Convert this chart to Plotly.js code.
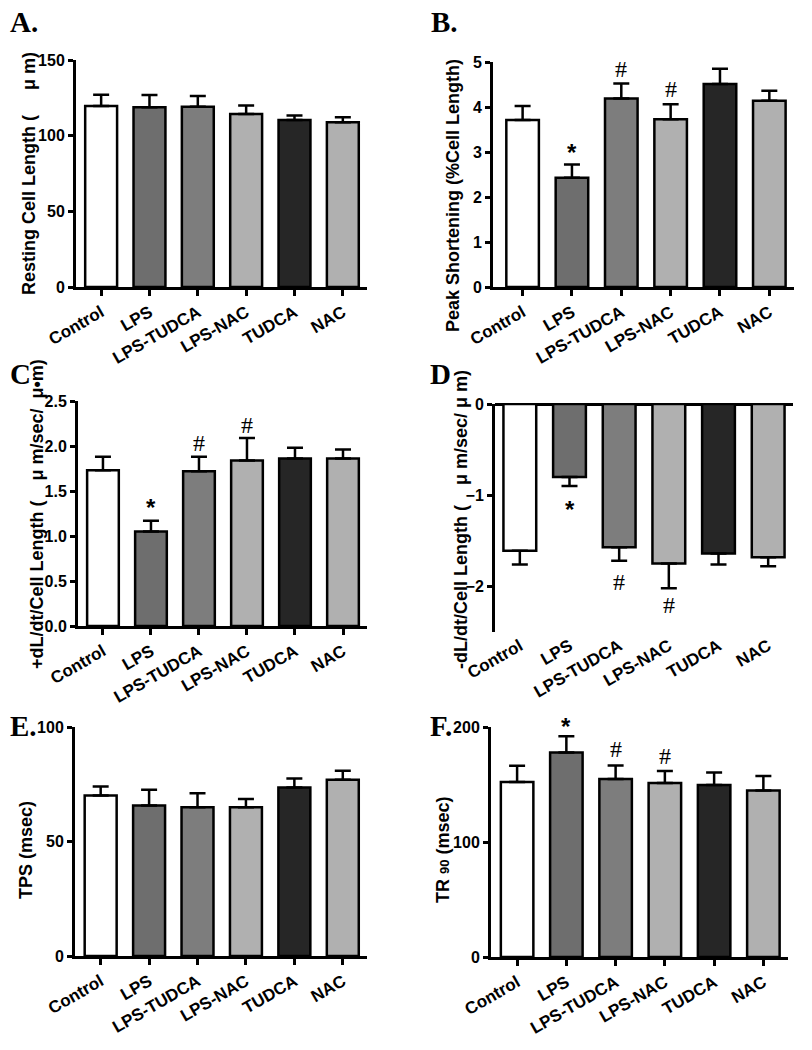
<!DOCTYPE html>
<html><head><meta charset="utf-8">
<script src="https://cdn.plot.ly/plotly-3.0.1.min.js"></script>
<style>body{margin:0;background:#fff}</style>
</head><body><div id="chart" style="width:812px;height:1050px"></div>
<script>
// ---------- data ----------
const groups = ['Control', 'LPS', 'LPS-TUDCA', 'LPS-NAC', 'TUDCA', 'NAC'];

const restingLength    = [119.6, 118.7, 119.1, 114.3, 110.4, 108.8];
const restingLengthSem = [7.4, 8.2, 7.1, 5.7, 3.0, 3.3];
const restingLengthMarks = ['', '', '', '', '', ''];

const peakShortening    = [3.71, 2.43, 4.19, 3.73, 4.51, 4.14];
const peakShorteningSem = [0.31, 0.29, 0.33, 0.33, 0.34, 0.22];
const peakShorteningMarks = ['', '*', '#', '#', '', ''];

const plusDLdt    = [1.73, 1.05, 1.72, 1.84, 1.86, 1.86];
const plusDLdtSem = [0.15, 0.12, 0.16, 0.25, 0.12, 0.10];
const plusDLdtMarks = ['', '*', '#', '#', '', ''];

const minusDLdt    = [-1.61, -0.80, -1.57, -1.75, -1.64, -1.68];
const minusDLdtSem = [0.15, 0.10, 0.15, 0.27, 0.12, 0.10];
const minusDLdtMarks = ['', '*', '#', '#', '', ''];

const tps    = [70.1, 65.7, 65.0, 65.0, 73.6, 77.0];
const tpsSem = [3.9, 6.9, 6.1, 3.6, 3.9, 3.9];
const tpsMarks = ['', '', '', '', '', ''];

const tr90    = [152.1, 177.9, 154.7, 151.2, 149.5, 144.8];
const tr90Sem = [14.2, 14.0, 11.9, 10.5, 11.0, 12.5];
const tr90Marks = ['', '*', '#', '#', '', ''];

// ---------- styles ----------
const barColors = ['#ffffff', '#6e6e6e', '#7d7d7d', '#b0b0b0', '#262626', '#b0b0b0'];
const W = 812, H = 1050;
const SANS = 'Liberation Sans, Arial, sans-serif';
const NARROW = 'Liberation Sans Narrow, Arial Narrow, Liberation Sans, Arial, sans-serif';
const SERIF = 'Liberation Serif, Times New Roman, serif';

const panels = [
  {vals: restingLength, sem: restingLengthSem, marks: restingLengthMarks, neg: false,
   xpx: [76, 367], ypx: [60, 287], xr: [-0.52, 5.5], yr: [0, 150], tickvals: [0, 50, 100, 150], fmt: '',
   title: 'Resting Cell Length (\u00a0\u00a0\u00a0\u00a0\u00a0\u03bc m)', tpos: [29, 174],
   letter: 'A.', lpos: [8, 22], markShift: [0, 0, 0, 0, 0, 0]},
  {vals: peakShortening, sem: peakShorteningSem, marks: peakShorteningMarks, neg: false,
   xpx: [493, 794], ypx: [62, 287], xr: [-0.6, 5.5], yr: [0, 5], tickvals: [0, 1, 2, 3, 4, 5], fmt: '',
   title: 'Peak Shortening (%Cell Length)', tpos: [453, 196],
   letter: 'B.', lpos: [429, 22], markShift: [0, 12, 15, 15, 0, 0]},
  {vals: plusDLdt, sem: plusDLdtSem, marks: plusDLdtMarks, neg: false,
   xpx: [78, 367], ypx: [401, 626], xr: [-0.52, 5.5], yr: [0, 2.5], tickvals: [0, 0.5, 1, 1.5, 2, 2.5], fmt: '.1f',
   title: '+dL/dt/Cell Length (\u00a0\u00a0\u00a0\u00a0\u03bc m/sec/\u00a0\u00a0\u03bc\u2022m)', tpos: [37, 514],
   letter: 'C', lpos: [8, 374], markShift: [0, 13, 14, 13, 0, 0]},
  {vals: minusDLdt, sem: minusDLdtSem, marks: minusDLdtMarks, neg: true,
   xpx: [495, 793], ypx: [404, 632], xr: [-0.5, 5.5], yr: [-2.5, 0], tickvals: [-2, -1, 0], fmt: '',
   title: '-dL/dt/Cell Length (\u00a0\u00a0\u00a0\u00a0\u03bc m/sec/\u00a0\u03bc m)', tpos: [461, 520],
   letter: 'D', lpos: [428, 374], markShift: [0, -23, -21, -17, 0, 0]},
  {vals: tps, sem: tpsSem, marks: tpsMarks, neg: false,
   xpx: [75, 367], ypx: [727, 956], xr: [-0.53, 5.5], yr: [0, 100], tickvals: [0, 50, 100], fmt: '',
   title: 'TPS (msec)', tpos: [26, 850],
   letter: 'E.', lpos: [8, 726], markShift: [0, 0, 0, 0, 0, 0]},
  {vals: tr90, sem: tr90Sem, marks: tr90Marks, neg: false,
   xpx: [491, 788], ypx: [727, 957], xr: [-0.53, 5.5], yr: [0, 200], tickvals: [0, 100, 200], fmt: '',
   title: 'TR <span style="font-size:13px">90</span> (msec)', tpos: [443, 850],
   letter: 'F.', lpos: [428, 726], markShift: [0, 10, 16, 15, 0, 0]}
];

const data = [];
const layout = {
  width: W, height: H,
  margin: {l: 0, r: 0, t: 0, b: 0},
  paper_bgcolor: '#fff', plot_bgcolor: 'rgba(0,0,0,0)',
  showlegend: false, bargap: 0.34,
  annotations: []
};

panels.forEach((p, i) => {
  const n = i + 1;
  const xa = 'x' + (n === 1 ? '' : n), ya = 'y' + (n === 1 ? '' : n);
  const zeros = p.vals.map(() => 0);
  data.push({
    type: 'bar', x: groups, y: p.vals, xaxis: xa, yaxis: ya,
    width: 0.66,
    marker: {color: barColors, line: {color: '#000', width: 2.5}},
    error_y: {type: 'data', symmetric: false,
      array: p.neg ? zeros : p.sem, arrayminus: p.neg ? p.sem : zeros,
      color: '#000', thickness: 2.5, width: 8},
    hoverinfo: 'skip', cliponaxis: false
  });
  const xkey = 'xaxis' + (n === 1 ? '' : n), ykey = 'yaxis' + (n === 1 ? '' : n);
  layout[xkey] = {
    domain: [p.xpx[0] / W, p.xpx[1] / W], anchor: ya,
    type: 'category', range: p.xr, fixedrange: true,
    showline: !p.neg, linecolor: '#000', linewidth: 3,
    ticks: p.neg ? '' : 'outside', ticklen: 6, tickwidth: 3, tickcolor: '#000',
    tickangle: -30, showgrid: false, zeroline: false,
    tickfont: {family: SANS, size: 17, color: '#000', weight: 'bold'}
  };
  layout[ykey] = {
    domain: [1 - p.ypx[1] / H, 1 - p.ypx[0] / H], anchor: xa,
    range: p.yr, fixedrange: true,
    showline: true, linecolor: '#000', linewidth: 3,
    ticks: 'outside', ticklen: 5, tickwidth: 3, tickcolor: '#000',
    tickvals: p.tickvals, tickformat: p.fmt, showgrid: false,
    zeroline: p.neg, zerolinecolor: '#000', zerolinewidth: 3,
    tickfont: {family: NARROW, size: 16, color: '#000', weight: 'bold'}
  };
  // y title
  layout.annotations.push({
    xref: 'paper', yref: 'paper', x: p.tpos[0] / W, y: 1 - p.tpos[1] / H,
    xanchor: 'center', yanchor: 'middle', textangle: -90, showarrow: false,
    text: p.title, font: {family: SANS, size: 18, color: '#000', weight: 'bold'}
  });
  // panel letter
  layout.annotations.push({
    xref: 'paper', yref: 'paper', x: p.lpos[0] / W, y: 1 - p.lpos[1] / H,
    xanchor: 'left', yanchor: 'middle', showarrow: false,
    text: p.letter, font: {family: SERIF, size: 29, color: '#000', weight: 'bold'}
  });
  // significance marks
  p.marks.forEach((m, j) => {
    if (!m) return;
    const yv = p.neg ? p.vals[j] - p.sem[j] : p.vals[j] + p.sem[j];
    layout.annotations.push({
      xref: xa, yref: ya, x: groups[j], y: yv,
      xanchor: 'center', yanchor: 'middle', showarrow: false,
      yshift: p.markShift[j], text: m,
      font: m === '*' ? {family: SANS, size: 24, color: '#000', weight: 'bold'}
                      : {family: SERIF, size: 24, color: '#000'}
    });
  });
});

Plotly.newPlot('chart', data, layout, {staticPlot: true});
</script></body></html>
